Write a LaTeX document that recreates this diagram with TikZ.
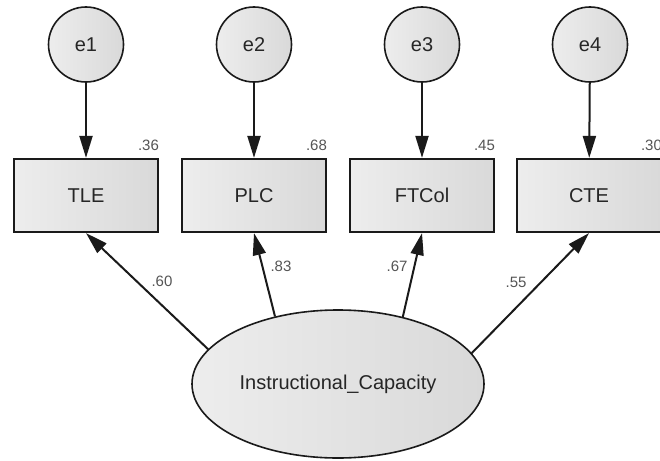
\documentclass[tikz,border=0pt]{standalone}
\usepackage{fontspec}
\setmainfont{Liberation Sans}
\usetikzlibrary{arrows.meta,shapes.geometric}
\definecolor{fillA}{HTML}{EDEDED}
\definecolor{fillB}{HTML}{D9D9D9}
\definecolor{ln}{HTML}{1A1A1A}
\definecolor{txt}{HTML}{262626}
\definecolor{num}{HTML}{555555}
\begin{document}
\begin{tikzpicture}[x=1pt,y=-1pt,
  shadefill/.style={left color=fillA, right color=fillB},
  errc/.style={circle, draw=ln, line width=1.6pt, minimum size=75pt, inner sep=0pt, shadefill, font=\fontsize{20}{22}\selectfont, text=txt},
  obs/.style={rectangle, draw=ln, line width=2.2pt, minimum width=144pt, minimum height=73pt, inner sep=0pt, shadefill, font=\fontsize{20}{22}\selectfont, text=txt},
  lat/.style={ellipse, draw=ln, line width=1.6pt, minimum width=292pt, minimum height=148pt, inner sep=0pt, shadefill, font=\fontsize{20}{22}\selectfont, text=txt},
  conn/.style={draw=ln, line width=2pt, -{Triangle[length=22pt,width=13pt]}},
  r2/.style={font=\fontsize{15}{17}\selectfont, text=num, inner sep=0pt, anchor=base east},
  ld/.style={font=\fontsize{15}{17}\selectfont, text=num, inner sep=0pt}
]
\useasboundingbox (0,0) rectangle (660,460);
\fill[white] (0,0) rectangle (660,460);

\node[errc] (e1) at (86,44.5) {e1};
\node[errc] (e2) at (254,44.5) {e2};
\node[errc] (e3) at (422,44.5) {e3};
\node[errc] (e4) at (590,44.5) {e4};

\node[obs] (TLE) at (86,195.5) {TLE};
\node[obs] (PLC) at (254,195.5) {PLC};
\node[obs] (FTCol) at (422,195.5) {FTCol};
\node[obs] (CTE) at (589,195.5) {CTE};

\node[lat] (ic) at (338,384) {Instructional\_Capacity};

\draw[conn] (e1) -- (TLE);
\draw[conn] (e2) -- (PLC);
\draw[conn] (e3) -- (FTCol);
\draw[conn] (e4) -- (CTE);

\draw[conn] (ic.165.9) -- (TLE.south);
\draw[conn] (ic.133.2) -- (PLC.south);
\draw[conn] (ic.46.3) -- (FTCol.south);
\draw[conn] (ic.13.8) -- (CTE.south);

\node[r2] (r1) at ([yshift=7pt]TLE.north east) {.36};
\node[r2] (r2n) at ([yshift=7pt]PLC.north east) {.68};
\node[r2] (r3) at ([yshift=7pt]FTCol.north east) {.45};
\node[r2] (r4) at ([yshift=7pt]CTE.north east) {.30};

\node[ld] (l1) at (162,281) {.60};
\node[ld] (l2) at (281,266) {.83};
\node[ld] (l3) at (397,266) {.67};
\node[ld] (l4) at (516,282) {.55};
\end{tikzpicture}
\end{document}
